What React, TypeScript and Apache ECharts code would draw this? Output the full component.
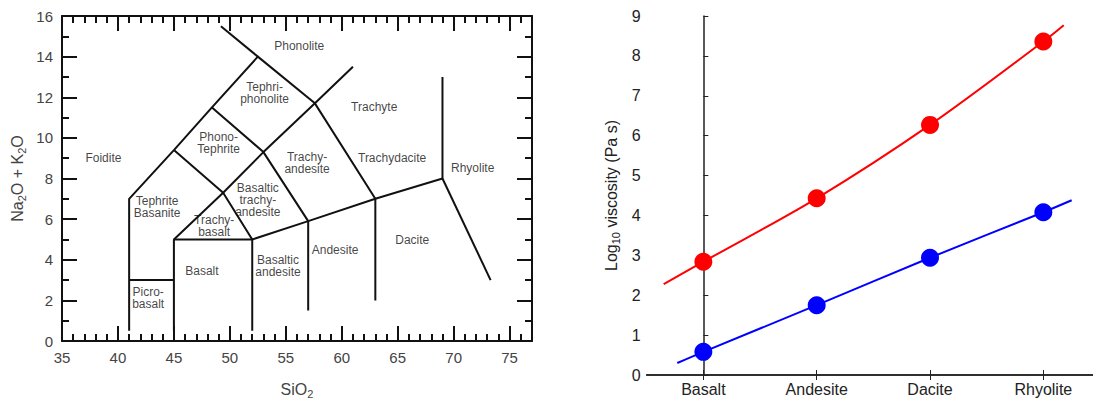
import React, { useEffect, useRef } from "react";
import * as echarts from "echarts";

// ---- Left panel: TAS diagram ----
const tasXTicks = [35, 40, 45, 50, 55, 60, 65, 70, 75];

const boundaryA = [[41, 0.5], [41, 7], [45, 9.4], [48.4, 11.5], [52.5, 14], [57.6, 11.7], [63, 7], [63, 2]];
const boundaryB = [[49.2, 15.5], [52.5, 14]];
const boundaryC = [[41, 3], [45, 3]];
const boundaryD = [[45, 0.5], [45, 5], [52, 5], [52, 0.5]];
const boundaryE = [[45, 5], [49.4, 7.3], [53, 9.3], [57.6, 11.7], [61, 13.5]];
const boundaryF = [[45, 9.4], [49.4, 7.3], [52, 5], [57, 5.9], [63, 7], [69, 8], [69, 13]];
const boundaryG = [[48.4, 11.5], [53, 9.3], [57, 5.9], [57, 1.5]];
const boundaryH = [[69, 8], [73.3, 3]];
const boundaries = [boundaryA, boundaryB, boundaryC, boundaryD, boundaryE, boundaryF, boundaryG, boundaryH];

const fieldNames = [
  "Phonolite", "Tephri-\nphonolite", "Trachyte", "Phono-\nTephrite", "Foidite",
  "Trachy-\nandesite", "Trachydacite", "Rhyolite", "Tephrite\nBasanite",
  "Basaltic\ntrachy-\nandesite", "Trachy-\nbasalt", "Dacite", "Andesite",
  "Basaltic\nandesite", "Basalt", "Picro-\nbasalt",
];
const fieldX = [56.2, 53.1, 62.9, 49.0, 38.7, 56.9, 64.5, 71.7, 43.5, 52.5, 48.6, 66.3, 59.4, 54.3, 47.5, 42.7];
const fieldY = [14.5, 12.2, 11.5, 9.75, 9.0, 8.75, 9.0, 8.5, 6.6, 6.95, 5.65, 4.97, 4.47, 3.7, 3.46, 2.13];

// ---- Right panel: viscosity ----
const rockTypes = ["Basalt", "Andesite", "Dacite", "Rhyolite"];
const viscosityHigh = [2.84, 4.43, 6.27, 8.36];
const viscosityLow = [0.58, 1.75, 2.94, 4.08];
const highCurve = [[-0.35, 2.28], [0, 2.84], [1, 4.43], [2, 6.27], [3, 8.36], [3.18, 8.77]];
const lowCurve = [[-0.23, 0.3], [0, 0.58], [1, 1.75], [2, 2.94], [3, 4.08], [3.25, 4.38]];

const FONT = "Liberation Sans";

export default function App() {
  const ref = useRef<HTMLDivElement>(null);
  useEffect(() => {
    if (!ref.current) return;
    document.body.style.overflow = "hidden";
    const chart = echarts.init(ref.current, undefined, { renderer: "svg" });
    const axisBlack = { color: "#111", width: 2 };
    const noSplit = { show: false };
    const option: any = {
      animation: false,
      backgroundColor: "#fff",
      textStyle: { fontFamily: FONT },
      grid: [
        { left: 62, top: 16, width: 470, height: 328 },
        { left: 646.7, top: 16, width: 453.3, height: 359 },
      ],
      xAxis: [
        {
          gridIndex: 0, type: "value", min: 35, max: 77, interval: 5, position: "bottom",
          axisLine: { show: true, lineStyle: axisBlack },
          axisTick: { show: true, inside: true, length: 15, lineStyle: axisBlack },
          axisLabel: { show: true, showMaxLabel: false, fontSize: 15, color: "#444", margin: 9, fontFamily: FONT,
            formatter: (v: number) => (tasXTicks.indexOf(v) >= 0 ? String(v) : "") },
          splitLine: noSplit,
          name: "{a|SiO}{s|2}", nameLocation: "middle", nameGap: 38,
          nameTextStyle: { rich: { a: { fontSize: 16, color: "#444", fontFamily: FONT }, s: { fontSize: 11, color: "#444", fontFamily: FONT, padding: [9, 0, 0, 0] } } },
        },
        {
          gridIndex: 0, type: "value", min: 35, max: 77, interval: 1, position: "bottom",
          axisLine: { show: false }, axisLabel: { show: false },
          axisTick: { show: true, inside: true, length: 7, lineStyle: axisBlack }, splitLine: noSplit,
        },
        {
          gridIndex: 0, type: "value", min: 35, max: 77, interval: 5, position: "top",
          axisLine: { show: true, lineStyle: axisBlack }, axisLabel: { show: false },
          axisTick: { show: true, inside: true, length: 15, lineStyle: axisBlack }, splitLine: noSplit,
        },
        {
          gridIndex: 0, type: "value", min: 35, max: 77, interval: 1, position: "top",
          axisLine: { show: false }, axisLabel: { show: false },
          axisTick: { show: true, inside: true, length: 7, lineStyle: axisBlack }, splitLine: noSplit,
        },
        {
          gridIndex: 1, type: "category", data: rockTypes, position: "bottom", boundaryGap: true,
          axisLine: { show: true, lineStyle: { color: "#222", width: 1.5 } },
          axisTick: { show: true, inside: true, alignWithLabel: true, length: 5, lineStyle: { color: "#222", width: 1 } },
          axisLabel: { fontSize: 16, color: "#222", margin: 6, fontFamily: FONT },
          splitLine: noSplit,
        },
        {
          gridIndex: 1, type: "category", data: rockTypes, position: "top", boundaryGap: true,
          axisLine: { show: true, lineStyle: { color: "#222", width: 1.5 } },
          axisTick: { show: true, inside: true, alignWithLabel: true, length: 5, lineStyle: { color: "#222", width: 1 } },
          axisLabel: { show: false }, splitLine: noSplit,
        },
        { gridIndex: 1, type: "value", min: -0.5, max: 3.5, show: false, splitLine: noSplit },
      ],
      yAxis: [
        {
          gridIndex: 0, type: "value", min: 0, max: 16, interval: 2, position: "left",
          axisLine: { show: true, lineStyle: axisBlack },
          axisTick: { show: true, inside: true, length: 15, lineStyle: axisBlack },
          minorTick: { show: true, splitNumber: 2, length: 7, lineStyle: axisBlack },
          axisLabel: { fontSize: 15, color: "#444", margin: 9, fontFamily: FONT },
          splitLine: noSplit, minorSplitLine: noSplit,
          name: "{a|Na}{s|2}{a|O + K}{s|2}{a|O}", nameLocation: "middle", nameRotate: 90, nameGap: 35,
          nameTextStyle: { rich: { a: { fontSize: 16, color: "#444", fontFamily: FONT }, s: { fontSize: 11, color: "#444", fontFamily: FONT, padding: [9, 0, 0, 0] } } },
        },
        {
          gridIndex: 0, type: "value", min: 0, max: 16, interval: 2, position: "right",
          axisLine: { show: true, lineStyle: axisBlack },
          axisTick: { show: true, inside: true, length: 15, lineStyle: axisBlack },
          minorTick: { show: true, splitNumber: 2, length: 7, lineStyle: axisBlack },
          axisLabel: { show: false }, splitLine: noSplit, minorSplitLine: noSplit,
        },
        {
          gridIndex: 1, type: "value", min: 0, max: 9, interval: 1, position: "left",
          axisLine: { show: true, lineStyle: { color: "#222", width: 1.5 } },
          axisTick: { show: true, inside: true, length: 5, lineStyle: { color: "#222", width: 1 } },
          axisLabel: { fontSize: 16, color: "#222", margin: 6, fontFamily: FONT },
          splitLine: noSplit,
          name: "{a|Log}{s|10}{a| viscosity (Pa s)}", nameLocation: "middle", nameRotate: 90, nameGap: 25,
          nameTextStyle: { rich: { a: { fontSize: 16, color: "#222", fontFamily: FONT }, s: { fontSize: 11, color: "#222", fontFamily: FONT, padding: [9, 0, 0, 0] } } },
        },
        {
          gridIndex: 1, type: "value", min: 0, max: 9, interval: 1, position: "right",
          axisLine: { show: true, lineStyle: { color: "#222", width: 1.5 } },
          axisTick: { show: true, inside: true, length: 5, lineStyle: { color: "#222", width: 1 } },
          axisLabel: { show: false }, splitLine: noSplit,
        },
      ],
      series: [
        ...boundaries.map((path) => ({
          type: "line", xAxisIndex: 0, yAxisIndex: 0, data: path, symbol: "none", silent: true,
          lineStyle: { color: "#111", width: 2 },
        })),
        {
          type: "scatter", xAxisIndex: 0, yAxisIndex: 0, symbolSize: 0, silent: true,
          data: fieldNames.map((n, i) => ({ name: n, value: [fieldX[i], fieldY[i]] })),
          label: { show: true, position: "inside", formatter: "{b}", fontSize: 12, lineHeight: 12, color: "#111", fontFamily: FONT },
        },
        {
          type: "line", xAxisIndex: 6, yAxisIndex: 2, data: highCurve, smooth: 0.3, symbol: "none",
          lineStyle: { color: "#ff0000", width: 2 },
        },
        {
          type: "line", xAxisIndex: 6, yAxisIndex: 2, data: lowCurve, smooth: 0.3, symbol: "none",
          lineStyle: { color: "#0000ff", width: 2 },
        },
        {
          type: "scatter", xAxisIndex: 6, yAxisIndex: 2, symbol: "circle", symbolSize: 18,
          data: viscosityHigh.map((v, i) => [i, v]), itemStyle: { color: "#ff0000", opacity: 1 },
        },
        {
          type: "scatter", xAxisIndex: 6, yAxisIndex: 2, symbol: "circle", symbolSize: 18,
          data: viscosityLow.map((v, i) => [i, v]), itemStyle: { color: "#0000ff", opacity: 1 },
        },
      ],
    };
    chart.setOption(option);
    return () => chart.dispose();
  }, []);
  return <div ref={ref} style={{ position: "fixed", left: 0, top: 0, width: 1110, height: 404 }} />;
}
